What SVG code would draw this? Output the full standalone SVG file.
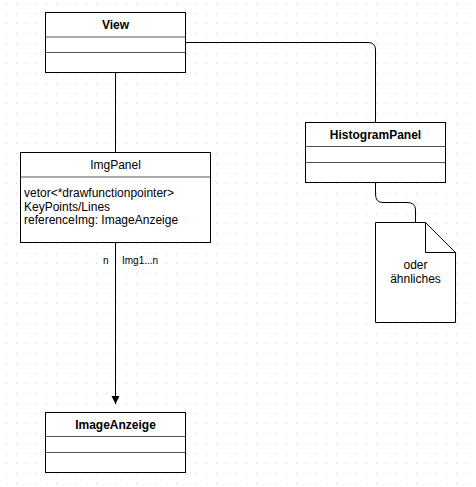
<svg xmlns="http://www.w3.org/2000/svg" width="476" height="487" viewBox="0 0 476 487">
<defs>
<pattern id="grid" x="0" y="0" width="10" height="10" patternUnits="userSpaceOnUse">
<rect x="6" y="3" width="1" height="1" fill="#d0d0d0"/>
</pattern>
<marker id="arrow" markerWidth="10" markerHeight="10" refX="8" refY="4" orient="auto" markerUnits="userSpaceOnUse">
<path d="M0,0 L8,4 L0,8 Z" fill="#000"/>
</marker>
<style>
.box{fill:#fff;stroke:#000;stroke-width:1}
.div{stroke:#555;stroke-width:1}
.title{font-family:"Liberation Sans",Arial,sans-serif;font-size:12px;font-weight:bold;fill:#000;text-anchor:middle}
.txt{font-family:"Liberation Sans",Arial,sans-serif;font-size:12px;fill:#000}
.lbl{font-family:"Liberation Sans",Arial,sans-serif;font-size:10px;fill:#000}
.edge{fill:none;stroke:#000;stroke-width:1}
</style>
</defs>
<rect x="0" y="0" width="476" height="487" fill="#fff"/>
<rect x="0" y="0" width="476" height="487" fill="url(#grid)"/>

<g id="connectors">
<path class="edge" d="M115.5,72 V152"/>
<path class="edge" d="M185,42.5 H368 Q375.5,42.5 375.5,50 V122"/>
<path class="edge" d="M375.5,182 V194 Q375.5,202.5 383,202.5 H407 Q415.5,202.5 415.5,210 V222"/>
<path class="edge" d="M115.5,242 V404" marker-end="url(#arrow)"/>
<text class="lbl" x="103" y="264">n</text>
<text class="lbl" x="122" y="264">Img1...n</text>
</g>

<g id="view">
<rect class="box" x="45.5" y="12.5" width="140" height="60"/>
<line class="div" x1="45.5" y1="37" x2="185" y2="37"/>
<line class="div" x1="45.5" y1="52.5" x2="185" y2="52.5"/>
<text class="title" x="115.5" y="29">View</text>
</g>

<g id="histogrampanel">
<rect class="box" x="305.5" y="122.5" width="140" height="60"/>
<line class="div" x1="305.5" y1="146.5" x2="445" y2="146.5"/>
<line class="div" x1="305.5" y1="162.5" x2="445" y2="162.5"/>
<text class="title" x="375.5" y="139">HistogramPanel</text>
</g>

<g id="note">
<path class="box" d="M375.5,222.5 H425.5 L455.5,252.5 V322.5 H375.5 Z"/>
<path class="edge" d="M425.5,222.5 V252.5 H455.5"/>
<text class="txt" x="415.5" y="269" text-anchor="middle">oder</text>
<text class="txt" x="415.5" y="283" text-anchor="middle">ähnliches</text>
</g>

<g id="imgpanel">
<rect class="box" x="20.5" y="152.5" width="190" height="90"/>
<line class="div" x1="20.5" y1="177" x2="210" y2="177"/>
<text class="txt" x="115.5" y="169" text-anchor="middle">ImgPanel</text>
<text class="txt" x="24" y="197">vetor&lt;*drawfunctionpointer&gt;</text>
<text class="txt" x="24" y="211">KeyPoints/Lines</text>
<text class="txt" x="24" y="224">referenceImg: ImageAnzeige</text>
</g>

<g id="imageanzeige">
<rect class="box" x="45.5" y="412.5" width="140" height="60"/>
<line class="div" x1="45.5" y1="436.5" x2="185" y2="436.5"/>
<line class="div" x1="45.5" y1="452.5" x2="185" y2="452.5"/>
<text class="title" x="115.5" y="429">ImageAnzeige</text>
</g>
</svg>
